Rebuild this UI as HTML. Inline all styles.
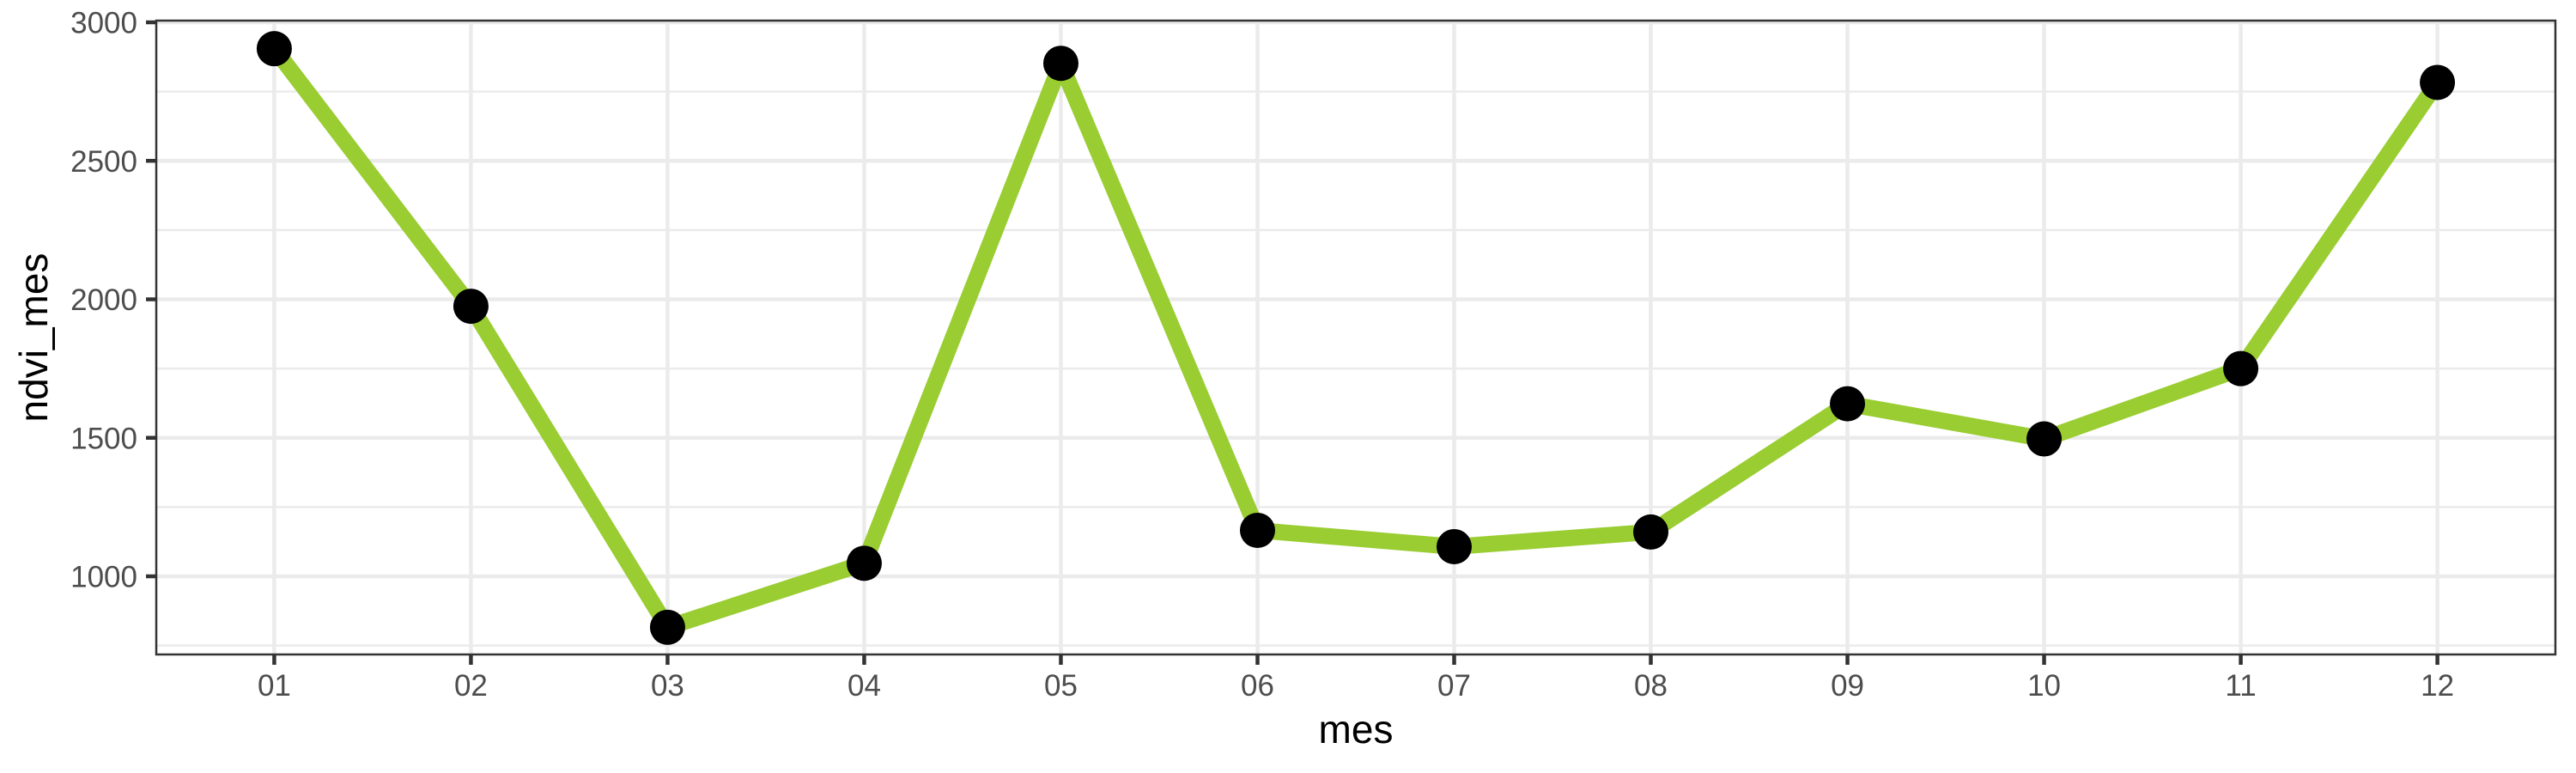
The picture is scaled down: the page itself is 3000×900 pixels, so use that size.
<!DOCTYPE html>
<html><head><meta charset="utf-8"><style>
html,body{margin:0;padding:0;background:#fff;}
svg{display:block;font-family:"Liberation Sans",Arial,sans-serif;}
</style></head><body>
<svg id="chart" width="3000" height="900" viewBox="0 0 3000 900">
<g id="grid"></g>
<g id="series"></g>
<rect x="182" y="24" width="2794" height="738" fill="none" stroke="#333" stroke-width="2.5"/>
<g id="axes"></g>
<text x="1579" y="865" text-anchor="middle" font-size="46" fill="#000">mes</text>
<text transform="translate(55,393) rotate(-90)" text-anchor="middle" font-size="46" fill="#000">ndvi_mes</text>
</svg>
<script>
const categories = ["01","02","03","04","05","06","07","08","09","10","11","12"];
const ndviValues = [2905, 1975, 816, 1047, 2852, 1166, 1107, 1160, 1623, 1496, 1750, 2783];
const yTicks = [1000, 1500, 2000, 2500, 3000];
const yMinorTicks = [750, 1250, 1750, 2250, 2750];

const L=182,R=2976,T=24,B=762;
const step=(R-L)/(categories.length+0.2);
function xPos(i){return L+(i+0.6)*step;}
function yPos(v){return 26+(3000-v)*0.3225;}
const NS="http://www.w3.org/2000/svg";
function mk(tag,attrs,parent){const e=document.createElementNS(NS,tag);for(const k in attrs)e.setAttribute(k,attrs[k]);parent.appendChild(e);return e;}
const grid=document.getElementById('grid'),series=document.getElementById('series'),axes=document.getElementById('axes');
yMinorTicks.forEach(v=>{const y=yPos(v);if(y<T||y>B)return;
 const l=mk('line',{x1:L,x2:R,y1:y,y2:y,stroke:'#ebebeb','stroke-width':2.5},grid);
 
 });
yTicks.forEach(v=>{const y=yPos(v);
 const l=mk('line',{x1:L,x2:R,y1:y,y2:y,stroke:'#ebebeb','stroke-width':4.5},grid);
 
 
 const t=mk('line',{x1:170,x2:182,y1:y,y2:y,stroke:'#333','stroke-width':4.5},axes);
 
 
 const tx=mk('text',{x:160,y:y+12.5,'text-anchor':'end','font-size':35,fill:'#4d4d4d'},axes);
 tx.textContent=v;
 
 });
categories.forEach((c,i)=>{const x=xPos(i);
 const l=mk('line',{x1:x,x2:x,y1:T,y2:B,stroke:'#ebebeb','stroke-width':4.5},grid);
 
 
 const t=mk('line',{x1:x,x2:x,y1:B,y2:B+12,stroke:'#333','stroke-width':4.5},axes);
 
 
 const tx=mk('text',{x:x,y:810,'text-anchor':'middle','font-size':35,fill:'#4d4d4d'},axes);
 tx.textContent=c;
 
 });
const pts=ndviValues.map((v,i)=>xPos(i)+','+yPos(v)).join(' ');
const pl=mk('polyline',{points:pts,fill:'none',stroke:'#9acd32','stroke-width':19,'stroke-linejoin':'round'},series);


ndviValues.forEach((v,i)=>{
 const c=mk('circle',{cx:xPos(i),cy:yPos(v),r:20.5,fill:'#000'},series);
 
 });
</script>
</body></html>
